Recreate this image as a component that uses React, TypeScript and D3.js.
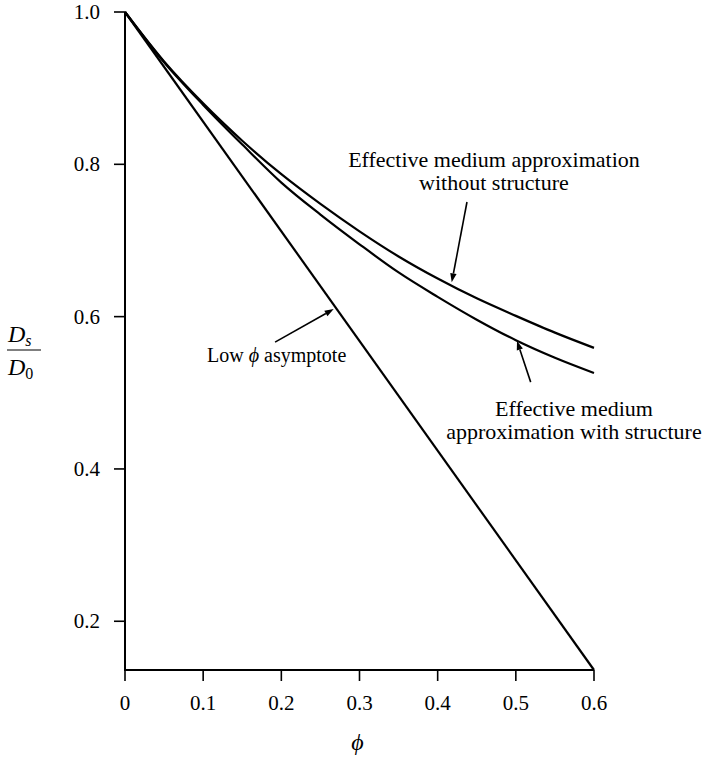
import React from 'react';
import * as d3 from 'd3';

// volume fraction phi
const phiValues = [0, 0.05, 0.1, 0.15, 0.2, 0.25, 0.3, 0.35, 0.4, 0.45, 0.5, 0.55, 0.6];
// effective medium approximation without structure (upper curve)
const emaNoStructure = [1.0, 0.935, 0.88, 0.831, 0.787, 0.748, 0.712, 0.679, 0.65, 0.624, 0.601, 0.579, 0.559];
// effective medium approximation with structure (lower curve)
const emaStructure = [1.0, 0.934, 0.878, 0.826, 0.776, 0.734, 0.695, 0.658, 0.626, 0.596, 0.569, 0.546, 0.526];
// low phi asymptote, a straight line
const asymptotePhi = [0, 0.6];
const asymptoteValues = [1.0, 0.136];

const xTicks = [0, 0.1, 0.2, 0.3, 0.4, 0.5, 0.6];
const xTickLabels = ['0', '0.1', '0.2', '0.3', '0.4', '0.5', '0.6'];
const yTicks = [0.2, 0.4, 0.6, 0.8, 1.0];
const yTickLabels = ['0.2', '0.4', '0.6', '0.8', '1.0'];

const FONT = '"Liberation Serif", "DejaVu Serif", serif';

const Arrow = ({ x1, y1, x2, y2 }) => {
  // line with a small filled head at (x2, y2)
  const ang = Math.atan2(y2 - y1, x2 - x1);
  const len = 9;
  const w = 3.2;
  const bx = x2 - len * Math.cos(ang);
  const by = y2 - len * Math.sin(ang);
  const px = -Math.sin(ang) * w;
  const py = Math.cos(ang) * w;
  return (
    <g>
      <line x1={x1} y1={y1} x2={bx} y2={by} stroke="#000" strokeWidth={1.6} />
      <polygon points={`${x2},${y2} ${bx + px},${by + py} ${bx - px},${by - py}`} fill="#000" />
    </g>
  );
};

export default function App() {
  const width = 710;
  const height = 757;

  const x = d3.scaleLinear().domain([0, 0.6]).range([125, 594]);
  const y = d3.scaleLinear().domain([0.136, 1.0]).range([670, 12]);

  const curve = d3
    .line()
    .x(d => x(d[0]))
    .y(d => y(d[1]))
    .curve(d3.curveMonotoneX);
  const straight = d3
    .line()
    .x(d => x(d[0]))
    .y(d => y(d[1]));

  const upper = phiValues.map((p, i) => [p, emaNoStructure[i]]);
  const lower = phiValues.map((p, i) => [p, emaStructure[i]]);
  const asym = asymptotePhi.map((p, i) => [p, asymptoteValues[i]]);

  const [x0, x1] = x.range();
  const [yBottom, yTop] = y.range();

  return (
    <svg
      width={width}
      height={height}
      style={{ position: 'absolute', left: 0, top: 0, background: '#fff' }}
      fontFamily={FONT}
    >
      {/* axes */}
      <line x1={x0 - 1} y1={yBottom} x2={x1} y2={yBottom} stroke="#000" strokeWidth={2} />
      <line x1={x0} y1={yTop} x2={x0} y2={yBottom} stroke="#000" strokeWidth={2} />
      {xTicks.map((t, i) => (
        <g key={'x' + t}>
          <line x1={x(t)} y1={yBottom} x2={x(t)} y2={yBottom + 11} stroke="#000" strokeWidth={1.6} />
          <text x={x(t)} y={yBottom + 40} textAnchor="middle" fontSize={21}>
            {xTickLabels[i]}
          </text>
        </g>
      ))}
      {yTicks.map((t, i) => (
        <g key={'y' + t}>
          <line x1={x0 - 11} y1={y(t)} x2={x0} y2={y(t)} stroke="#000" strokeWidth={1.6} />
          <text x={x0 - 25} y={y(t) + 7} textAnchor="end" fontSize={21}>
            {yTickLabels[i]}
          </text>
        </g>
      ))}

      {/* axis titles */}
      <text x={(x0 + x1) / 2 - 2} y={750} textAnchor="middle" fontSize={24} fontStyle="italic">
        ϕ
      </text>
      <g fontSize={24} fontStyle="italic">
        <text x={8} y={342}>
          D<tspan fontSize={16} dy={4}>s</tspan>
        </text>
        <line x1={7} y1={350} x2={41} y2={350} stroke="#000" strokeWidth={1.2} />
        <text x={8} y={375}>
          D<tspan fontSize={16} dy={4} fontStyle="normal">0</tspan>
        </text>
      </g>

      {/* curves */}
      <path d={straight(asym)} fill="none" stroke="#000" strokeWidth={2.2} />
      <path d={curve(upper)} fill="none" stroke="#000" strokeWidth={2.2} />
      <path d={curve(lower)} fill="none" stroke="#000" strokeWidth={2.2} />

      {/* annotations */}
      <g fontSize={22} textAnchor="middle">
        <text x={x(0.472)} y={y(0.7965)}>Effective medium approximation</text>
        <text x={x(0.472)} y={y(0.766)}>without structure</text>
        <text x={x(0.5744)} y={y(0.4695)}>Effective medium</text>
        <text x={x(0.5744)} y={y(0.4393)}>approximation with structure</text>
      </g>
      <text x={x(0.105)} y={y(0.5404)} fontSize={20}>
        Low <tspan fontStyle="italic">ϕ</tspan> asymptote
      </text>
      <Arrow x1={x(0.4375)} y1={y(0.7505)} x2={x(0.418)} y2={y(0.645)} />
      <Arrow x1={x(0.519)} y1={y(0.514)} x2={x(0.5015)} y2={y(0.568)} />
      <Arrow x1={x(0.192)} y1={y(0.5665)} x2={x(0.267)} y2={y(0.61)} />
    </svg>
  );
}
